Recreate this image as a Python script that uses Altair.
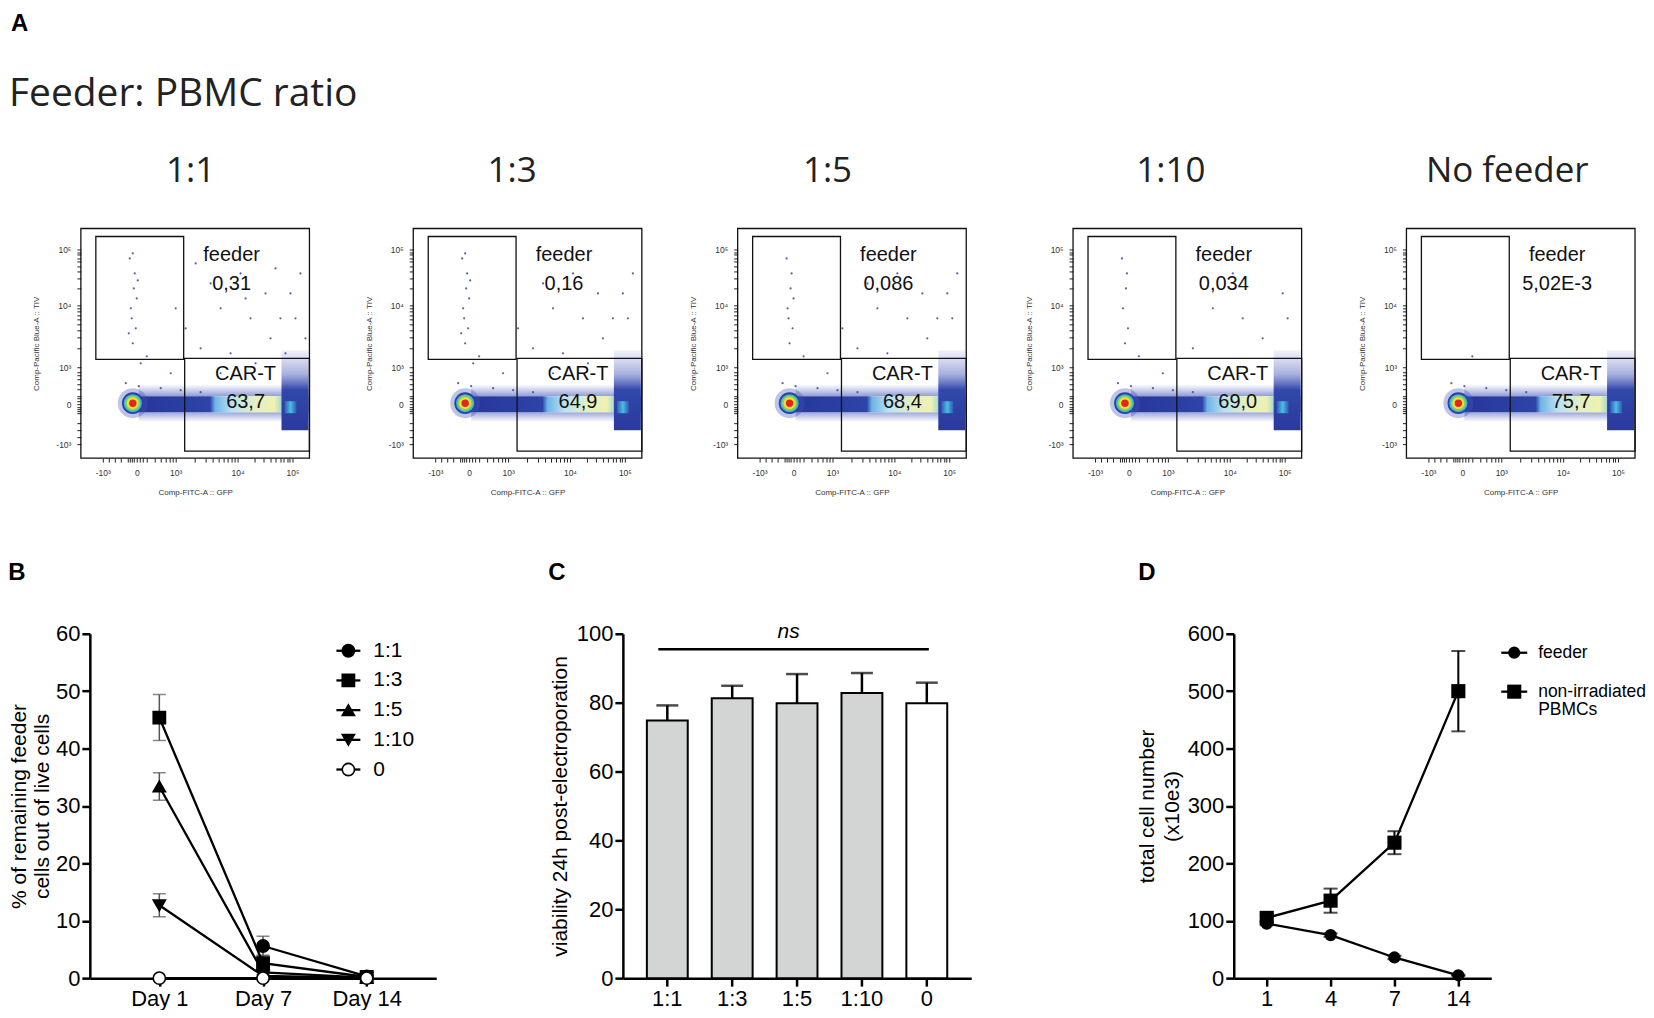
import math
import altair as alt
import pandas as pd

SANS = "Liberation Sans"
HEAD = "Open Sans"

# ======================= A: flow cytometry dot plots =======================
a_titles = ["1:1", "1:3", "1:5", "1:10", "No feeder"]
a_feeder = ["0,31", "0,16", "0,086", "0,034", "5,02E-3"]
a_cart = ["63,7", "64,9", "68,4", "69,0", "75,7"]
a_sparse_n = [40, 34, 28, 20, 6]

# biexponential display channels (x from left edge, y from bottom edge)
fx_major = [22, 56, 95, 157, 212]
fy_major = [14, 54, 91, 153, 209]
f_labels = ["-10³", "0", "10³", "10⁴", "10⁵"]

gate_name = ["feeder", "CAR-T"]
gate_x0 = [15, 104]
gate_x1 = [103, 229]
gate_y0 = [99, 7]
gate_y1 = [222, 100]

# event-density regions (band, fuzz above/below, right cluster, cluster core)
band_x = [58, 228]
band_y = [46, 62]
fuzz_hi_y = [62, 74]
fuzz_lo_y = [36, 46]
clus_x = [201, 228]
clus_y = [28, 108]
core_x = [204, 216]
core_y = [45, 57]

hot_x = [52, 52, 52, 52, 52, 52]
hot_y = [55, 55, 55, 55, 55, 55]
hot_size = [900, 470, 330, 230, 140, 55]
hot_col = ["#4657b6", "#2d3fa2", "#35b5e0", "#8bd34e", "#f4e03c", "#e3261f"]
hot_op = [0.35, 1, 1, 1, 1, 1]

sparse_x = [66, 58, 80, 45, 100, 120, 52, 55, 140, 190, 210, 170, 50, 53, 160, 215,
            120, 90, 54, 49, 130, 185, 200, 150, 56, 51, 105, 220, 175, 140, 52, 57,
            48, 60, 95, 195, 225, 115, 165, 205]
sparse_y = [102, 72, 70, 75, 68, 66, 115, 130, 150, 120, 165, 140, 150, 170, 185, 140,
            110, 85, 185, 200, 175, 165, 140, 105, 160, 140, 130, 185, 95, 85, 205, 178,
            125, 95, 150, 190, 120, 195, 160, 105]

# ======================= B: remaining feeder cells =======================
b_days = ["Day 1", "Day 7", "Day 14"]
b_series = ["1:1", "1:3", "1:5", "1:10", "0"]
b_11 = [None, 5.6, 0.3]
b_13 = [45.4, 2.6, 0.2]
b_15 = [33.4, 1.0, 0.1]
b_110 = [12.7, 0.4, 0.05]
b_0 = [0.0, 0.0, 0.0]
b_11_err = [None, 1.7, 0.2]
b_13_err = [4.0, 1.4, 0.2]
b_15_err = [2.4, 0.4, 0.1]
b_110_err = [2.0, 0.2, 0.05]
b_0_err = [0.0, 0.0, 0.0]

# ======================= C: viability =======================
c_groups = ["1:1", "1:3", "1:5", "1:10", "0"]
c_mean = [74.8, 81.3, 79.8, 82.8, 79.8]
c_err = [4.4, 3.6, 8.5, 5.8, 6.0]
c_ns = 95.5

# ======================= D: total cell number =======================
d_days = ["1", "4", "7", "14"]
d_series = ["feeder", "non-irradiated PBMCs"]
d_feeder = [95, 75, 36, 5]
d_feeder_err = [3, 3, 3, 1]
d_pbmc = [105, 135, 236, 500]
d_pbmc_err = [6, 21, 20, 70]

# ---------------------------------------------------------------------------
ONE = pd.DataFrame({"k": [0]})
FW, FH = 229, 230


def decade(start, width):
    return [start + width * math.log10(k) for k in range(2, 10)]


fx_minor = ([22 + 6 * k for k in range(1, 4)] + [47, 49, 51, 53, 59, 62]
            + [56 + d for d in (10, 18, 24, 29, 33, 36)] + decade(95, 62) + decade(157, 55))
fy_minor = ([14 + 7 * k for k in range(1, 4)] + [45, 47, 49, 51, 57, 60]
            + [54 + d for d in (8, 15, 20, 25, 29, 32)] + decade(91, 62) + decade(153, 56))


def lab_expr(pos):
    e = "''"
    for p, l in reversed(list(zip(pos, f_labels))):
        e = f"datum.value == {p} ? '{l}' : ({e})"
    return e


f_axis_style = dict(domain=False, grid=False, tickColor="#222", tickWidth=1, tickSize=4,
                    labelFont=SANS, labelFontSize=8.5, labelColor="#333", labelPadding=6,
                    labelOverlap=False, labelBound=False, titleFont=SANS, titleFontSize=8,
                    titleFontWeight="normal", titleColor="#333")
fxax = alt.Axis(values=sorted(fx_major + fx_minor), labelExpr=lab_expr(fx_major),
                title="Comp-FITC-A :: GFP", titlePadding=12, **f_axis_style)
fyax = alt.Axis(values=sorted(fy_major + fy_minor), labelExpr=lab_expr(fy_major),
                title="Comp-Pacific Blue-A :: TIV", titlePadding=15, **f_axis_style)
fxs = alt.Scale(domain=[0, FW], nice=False, zero=False)
fys = alt.Scale(domain=[0, FH], nice=False, zero=False)


def fX(f):
    return alt.X(f"{f}:Q", scale=fxs, axis=fxax)


def fY(f):
    return alt.Y(f"{f}:Q", scale=fys, axis=fyax)


def grad(stops, horizontal=True):
    st = [alt.GradientStop(offset=o, color=c) for o, c in stops]
    if horizontal:
        return alt.LinearGradient(gradient="linear", stops=st, x1=0, x2=1, y1=0, y2=0)
    return alt.LinearGradient(gradient="linear", stops=st, x1=0, x2=0, y1=0, y2=1)


def region(xr, yr, color):
    df = pd.DataFrame({"x0": [xr[0]], "x1": [xr[1]], "y0": [yr[0]], "y1": [yr[1]]})
    return alt.Chart(df).mark_rect(color=color).encode(x=fX("x0"), x2="x1:Q", y=fY("y0"), y2="y1:Q")


band_grad = grad([(0, "#27379a"), (0.42, "#2d44a8"), (0.45, "#6fb4e6"), (0.55, "#b9e1f1"),
                  (0.68, "#e3efc4"), (0.8, "#eef1b0"), (0.84, "#a9dccb"), (0.86, "#3b5cbd"), (1, "#2a3da2")])
fuzz_hi_grad = grad([(0, "rgba(70,90,190,0)"), (1, "rgba(55,75,180,0.55)")], horizontal=False)
fuzz_lo_grad = grad([(0, "rgba(55,75,180,0.5)"), (1, "rgba(70,90,190,0)")], horizontal=False)
clus_grad = grad([(0, "rgba(80,95,190,0.08)"), (0.3, "rgba(60,80,180,0.45)"), (0.5, "#3148aa"),
                  (1, "#2a3a9c")], horizontal=False)
core_grad = grad([(0, "#3556b6"), (0.5, "#49c0e2"), (1, "#3556b6")])

gate_df = pd.DataFrame({"g": gate_name, "x0": gate_x0, "x1": gate_x1, "y0": gate_y0, "y1": gate_y1})
frame_df = pd.DataFrame({"x0": [0], "x1": [FW], "y0": [0], "y1": [FH]})
hot_df = pd.DataFrame({"x": hot_x, "y": hot_y, "s": hot_size, "c": hot_col, "o": hot_op})

lefts = [80, 413, 738, 1074, 1408]
title_cx = [190, 512, 828, 1172, 1509]


def flow(i):
    clouds = [
        region(band_x, fuzz_hi_y, fuzz_hi_grad),
        region(band_x, fuzz_lo_y, fuzz_lo_grad),
        region(band_x, band_y, band_grad),
        region(clus_x, clus_y, clus_grad),
        region(core_x, core_y, core_grad),
    ]
    sp = pd.DataFrame({"x": sparse_x[:a_sparse_n[i]], "y": sparse_y[:a_sparse_n[i]]})
    sparse = alt.Chart(sp).mark_circle(size=5, color="#3b48a0", opacity=0.85).encode(x=fX("x"), y=fY("y"))
    hot = alt.Chart(hot_df).mark_circle().encode(
        x=fX("x"), y=fY("y"), size=alt.Size("s:Q", scale=None), color=alt.Color("c:N", scale=None),
        opacity=alt.Opacity("o:Q", scale=None))
    gates = alt.Chart(gate_df).mark_rect(fillOpacity=0, stroke="#111", strokeWidth=1.3).encode(
        x=fX("x0"), x2="x1:Q", y=fY("y0"), y2="y1:Q")
    frame = alt.Chart(frame_df).mark_rect(fillOpacity=0, stroke="#111", strokeWidth=1.3).encode(
        x=fX("x0"), x2="x1:Q", y=fY("y0"), y2="y1:Q")
    lab_df = pd.DataFrame({"t": ["feeder", a_feeder[i], "CAR-T", a_cart[i]],
                           "x": [151, 151, 165, 165], "y": [203, 174, 84, 56]})
    labels = alt.Chart(lab_df).mark_text(font=SANS, fontSize=20, color="#111", baseline="middle").encode(
        x=fX("x"), y=fY("y"), text="t:N")
    title = alt.Chart(ONE).mark_text(text=a_titles[i], font=HEAD, fontSize=35, color="#222",
                                     align="center", baseline="alphabetic").encode(
        x=alt.value(title_cx[i] - lefts[i]), y=alt.value(-47))
    layers = clouds + [sparse, hot, gates, frame, labels, title]
    if i == 0:
        layers.append(alt.Chart(ONE).mark_text(text="A", font=SANS, fontSize=24, fontWeight="bold",
                                               align="left", baseline="top", color="black").encode(
            x=alt.value(-70), y=alt.value(-217)))
        layers.append(alt.Chart(ONE).mark_text(text="Feeder: PBMC ratio", font=HEAD, fontSize=39,
                                               align="left", baseline="alphabetic", color="#222").encode(
            x=alt.value(-72), y=alt.value(-123)))
    return alt.layer(*layers).properties(width=FW, height=FH)


def spacer(w):
    return alt.Chart(ONE).mark_point(opacity=0).encode(x=alt.value(0), y=alt.value(0)).properties(width=w, height=1)


top_items = []
for i in range(5):
    if i > 0:
        top_items.append(spacer(lefts[i] - lefts[i - 1] - FW))
    top_items.append(flow(i))
top_row = alt.hconcat(*top_items, spacing=0, bounds="flush")

# ---------------------------------------------------------------------------
BTOP = 634
BH = 345


def ax(**kw):
    base = dict(domainColor="black", domainWidth=2.5, tickColor="black", tickWidth=2.5,
                tickSize=8, labelFont=SANS, labelFontSize=22, labelColor="black",
                labelPadding=2, titleFont=SANS, titleFontSize=21, titleFontWeight="normal",
                titleColor="black", grid=False, labelAngle=0)
    base.update(kw)
    return alt.Axis(**base)


def letter(t, x, y):
    return alt.Chart(ONE).mark_text(text=t, font=SANS, fontSize=24, fontWeight="bold", color="black",
                                    align="center", baseline="middle").encode(x=alt.value(x), y=alt.value(y))


# ----- B -----
b_mean = {"1:1": b_11, "1:3": b_13, "1:5": b_15, "1:10": b_110, "0": b_0}
b_errs = {"1:1": b_11_err, "1:3": b_13_err, "1:5": b_15_err, "1:10": b_110_err, "0": b_0_err}
rows = []
for s in b_series:
    for j, d in enumerate(b_days):
        m, e = b_mean[s][j], b_errs[s][j]
        rows.append({"series": s, "day": d, "o": j, "mean": m,
                     "err": e if e is not None else 0.0,
                     "lo": (m - e) if m is not None else None,
                     "hi": (m + e) if m is not None else None})
b_df = pd.DataFrame(rows)
b_df_ok = b_df.dropna(subset=["mean"])
b_err_df = b_df_ok[b_df_ok["err"] > 0]

bxs = alt.Scale(type="point", domain=b_days, padding=0.67)
bys = alt.Scale(domain=[0, 60], nice=False)
bxax = ax(title=None)
byax = ax(values=list(range(0, 61, 10)), title=["% of remaining feeder", "cells out of live cells"],
          titlePadding=2.5, titleLineHeight=23)
bX = alt.X("day:N", scale=bxs, axis=bxax, sort=b_days)
b_shape = alt.Shape("series:N", scale=alt.Scale(domain=b_series,
                    range=["circle", "square", "triangle-up", "triangle-down", "circle"]), legend=None)
b_fill = alt.Fill("series:N", scale=alt.Scale(domain=b_series,
                  range=["black", "black", "black", "black", "white"]), legend=None)

b_rule = alt.Chart(b_err_df).mark_rule(color="#555", strokeWidth=1.5).encode(
    x=bX, y=alt.Y("lo:Q", scale=bys, axis=byax), y2="hi:Q")
b_cap_hi = alt.Chart(b_err_df).mark_tick(color="#555", thickness=1.5, size=13).encode(
    x=bX, y=alt.Y("hi:Q", scale=bys, axis=byax))
b_cap_lo = alt.Chart(b_err_df).mark_tick(color="#555", thickness=1.5, size=13).encode(
    x=bX, y=alt.Y("lo:Q", scale=bys, axis=byax))
b_line = alt.Chart(b_df_ok).mark_line(color="black", strokeWidth=2.3).encode(
    x=bX, y=alt.Y("mean:Q", scale=bys, axis=byax), detail="series:N", order="o:Q")
b_pts = alt.Chart(b_df_ok).mark_point(filled=True, stroke="black", strokeWidth=1.6, size=150, opacity=1).encode(
    x=bX, y=alt.Y("mean:Q", scale=bys, axis=byax), shape=b_shape, fill=b_fill)

b_leg_df = pd.DataFrame({"series": b_series})
b_leg_y = alt.Y("series:N", scale=alt.Scale(type="point", domain=b_series,
                range=[651 - BTOP, 770 - BTOP], padding=0), axis=None)
b_leg = alt.layer(
    alt.Chart(b_leg_df).mark_rule(color="black", strokeWidth=2.3).encode(
        x=alt.value(247), x2=alt.value(271), y=b_leg_y),
    alt.Chart(b_leg_df).mark_point(filled=True, stroke="black", strokeWidth=1.6, size=150, opacity=1).encode(
        x=alt.value(259), y=b_leg_y, shape=b_shape, fill=b_fill),
    alt.Chart(b_leg_df).mark_text(align="left", baseline="middle", font=SANS, fontSize=21, color="black").encode(
        x=alt.value(284), y=b_leg_y, text="series:N"),
)
B = alt.layer(alt.layer(b_rule, b_cap_hi, b_cap_lo, b_line, b_pts, letter("B", -73, 573 - BTOP)),
              b_leg).resolve_scale(y="independent").properties(width=347, height=BH)

# ----- C -----
c_df = pd.DataFrame({"group": c_groups, "mean": c_mean, "hi": [m + e for m, e in zip(c_mean, c_err)]})
cxs = alt.Scale(type="band", domain=c_groups, paddingInner=0.37, paddingOuter=0.37)
cys = alt.Scale(domain=[0, 100], nice=False)
cxax = ax(title=None)
cyax = ax(values=list(range(0, 101, 20)), title="viability 24h post-electroporation", titlePadding=6)
cX = alt.X("group:N", scale=cxs, axis=cxax, sort=c_groups)
c_bars = alt.Chart(c_df).mark_bar(stroke="black", strokeWidth=2).encode(
    x=cX, y=alt.Y("mean:Q", scale=cys, axis=cyax),
    fill=alt.Fill("group:N", scale=alt.Scale(domain=c_groups,
                  range=["#d3d5d4", "#d3d5d4", "#d3d5d4", "#d3d5d4", "#ffffff"]), legend=None))
c_rule = alt.Chart(c_df).mark_rule(color="black", strokeWidth=2.5).encode(
    x=cX, y=alt.Y("mean:Q", scale=cys, axis=cyax), y2="hi:Q")
c_cap = alt.Chart(c_df).mark_tick(color="black", thickness=2.5, size=22).encode(
    x=cX, y=alt.Y("hi:Q", scale=cys, axis=cyax))
ns_df = pd.DataFrame({"a": [c_groups[0]], "b": [c_groups[-1]], "v": [c_ns]})
c_ns_line = alt.Chart(ns_df).mark_rule(color="black", strokeWidth=2.5).encode(
    x=alt.X("a:N", scale=cxs, axis=cxax, bandPosition=0.28),
    x2=alt.X2("b:N", bandPosition=0.55),
    y=alt.Y("v:Q", scale=cys, axis=cyax))
c_ns_txt = alt.Chart(ONE).mark_text(text="ns", font=SANS, fontSize=21, fontStyle="italic", color="black",
                                    align="center", baseline="middle").encode(
    x=alt.value(166), y=alt.value(632 - BTOP))
C = alt.layer(c_rule, c_cap, c_bars, c_ns_line, c_ns_txt, letter("C", -66, 573 - BTOP)).properties(
    width=349, height=BH)

# ----- D -----
rows = []
for s, vals, errs in [(d_series[0], d_feeder, d_feeder_err), (d_series[1], d_pbmc, d_pbmc_err)]:
    for j, d in enumerate(d_days):
        rows.append({"series": s, "day": d, "o": j, "mean": vals[j], "lo": vals[j] - errs[j], "hi": vals[j] + errs[j]})
d_df = pd.DataFrame(rows)
dxs = alt.Scale(type="point", domain=d_days, padding=0.516)
dys = alt.Scale(domain=[0, 600], nice=False)
dxax = ax(title=None)
dyax = ax(values=list(range(0, 601, 100)), title=["total cell number", "(x10e3)"],
          titlePadding=4.5, titleLineHeight=25)
dX = alt.X("day:N", scale=dxs, axis=dxax, sort=d_days)
d_shape = alt.Shape("series:N", scale=alt.Scale(domain=d_series, range=["circle", "square"]), legend=None)
d_size = alt.Size("series:N", scale=alt.Scale(domain=d_series, range=[150, 200]), legend=None)

d_rule = alt.Chart(d_df).mark_rule(color="black", strokeWidth=2).encode(
    x=dX, y=alt.Y("lo:Q", scale=dys, axis=dyax), y2="hi:Q")
d_cap_hi = alt.Chart(d_df).mark_tick(color="black", thickness=2, size=14).encode(
    x=dX, y=alt.Y("hi:Q", scale=dys, axis=dyax))
d_cap_lo = alt.Chart(d_df).mark_tick(color="black", thickness=2, size=14).encode(
    x=dX, y=alt.Y("lo:Q", scale=dys, axis=dyax))
d_line = alt.Chart(d_df).mark_line(color="black", strokeWidth=2.3).encode(
    x=dX, y=alt.Y("mean:Q", scale=dys, axis=dyax), detail="series:N", order="o:Q")
d_pts = alt.Chart(d_df).mark_point(filled=True, color="black", opacity=1).encode(
    x=dX, y=alt.Y("mean:Q", scale=dys, axis=dyax), shape=d_shape, size=d_size)

d_leg_df = pd.DataFrame({"series": d_series, "label": ["feeder", "non-irradiated\nPBMCs"]})
d_leg_y = alt.Y("series:N", scale=alt.Scale(type="point", domain=d_series,
                range=[653 - BTOP, 692 - BTOP], padding=0), axis=None)
d_leg = alt.layer(
    alt.Chart(d_leg_df).mark_rule(color="black", strokeWidth=2.3).encode(
        x=alt.value(268), x2=alt.value(294), y=d_leg_y),
    alt.Chart(d_leg_df).mark_point(filled=True, color="black", opacity=1).encode(
        x=alt.value(281), y=d_leg_y, shape=d_shape, size=d_size),
    alt.Chart(d_leg_df).mark_text(align="left", baseline="middle", font=SANS, fontSize=17.5, color="black",
                                  lineBreak="\n", lineHeight=18).encode(
        x=alt.value(305), y=d_leg_y, text="label:N"),
)
D = alt.layer(alt.layer(d_rule, d_cap_hi, d_cap_lo, d_line, d_pts, letter("D", -87, 573 - BTOP)),
              d_leg).resolve_scale(y="independent").properties(width=258, height=BH)

bottom_row = alt.hconcat(spacer(9), B, spacer(623 - 436), C, spacer(1235 - 972), D,
                         spacing=0, bounds="flush").resolve_scale(
    fill="independent", shape="independent", size="independent")

# nested flush rows count as zero height, so the gap is measured top-to-top
chart = alt.vconcat(top_row, bottom_row, spacing=BTOP - 228, bounds="flush").properties(
    padding={"left": 0, "top": 3, "right": 0, "bottom": 0}, background="white").resolve_scale(
    fill="independent", shape="independent", size="independent").configure_view(
    stroke=None).configure_axis(grid=False)

chart.save("out.html", embed_options={"renderer": "svg", "actions": False})
